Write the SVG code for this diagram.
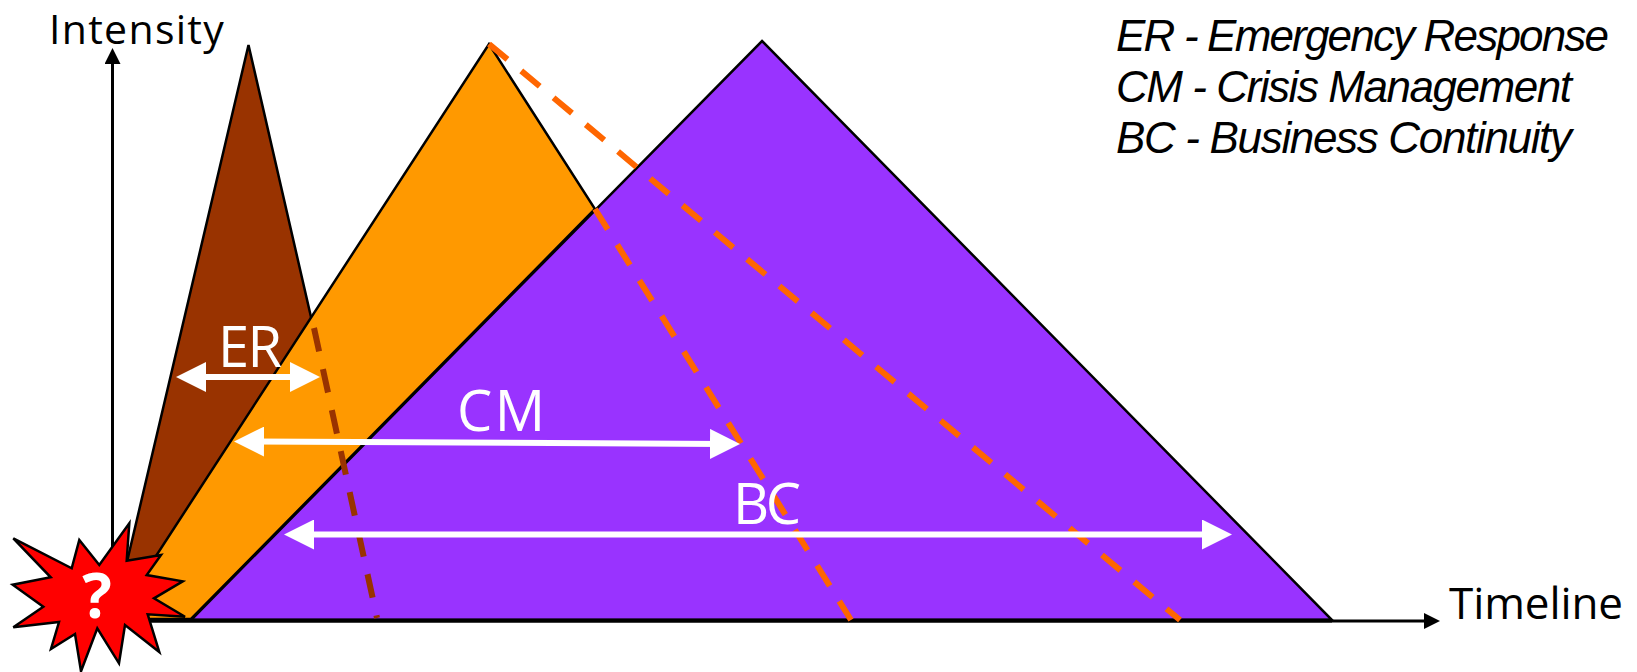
<svg xmlns="http://www.w3.org/2000/svg" width="1637" height="672" viewBox="0 0 1637 672">
<style>
.t{font-family:"Open Sans","Noto Sans","DejaVu Sans",sans-serif}
.tl{font-size:44px;fill:#000}
.leg{font-family:"Liberation Sans",Arial,sans-serif;font-size:44px;font-style:italic;fill:#000}
.lab{font-size:56px;fill:#fff}
.sh{stroke:#000;stroke-width:2.500;stroke-linejoin:miter}
.wa{stroke:#fff;stroke-width:6;fill:none;marker-start:url(#wh);marker-end:url(#wh)}
.ax{stroke:#000;stroke-width:3;fill:none;marker-end:url(#bh)}
.do{stroke:#FF6600;stroke-width:6;stroke-dasharray:24 18;fill:none}
.db{stroke:#993300;stroke-width:6;stroke-dasharray:24 18;fill:none}
</style>
<defs>
<marker id="wh" markerUnits="userSpaceOnUse" markerWidth="30" markerHeight="30" refX="15" refY="15" orient="auto-start-reverse"><path d="M0 0L30 15L0 30Z" fill="#fff"/></marker>
<marker id="bh" markerUnits="userSpaceOnUse" markerWidth="16" markerHeight="16" refX="2" refY="8" orient="auto"><path d="M0 0L16 8L0 16Z" fill="#000"/></marker>
</defs>
<g id="axes">
<path class="ax" d="M112.500 620V62"/>
<path class="ax" d="M150 621H1426"/>
</g>
<g id="er-triangle"><polygon class="sh" fill="#993300" points="248.500,45 376,600 118,600"/></g>
<g id="cm-triangle"><polygon class="sh" fill="#FF9900" points="489,44 595,209 191,619 115,619"/></g>
<g id="bc-triangle"><polygon class="sh" fill="#9933FF" points="762,41 1332,620 191,620"/></g>
<path d="M150 620.500H1332" stroke="#000" stroke-width="4" fill="none"/>
<g id="connectors">
<path class="db" d="M314 328L377 618"/>
<path class="do" d="M595 209L851 620"/>
<path class="do" d="M489 44L1180 620"/>
<path class="wa" d="M191 377H305"/>
<path class="wa" d="M249 441.500L725 444"/>
<path class="wa" d="M299 534.500H1217"/>
</g>
<g id="event">
<polygon class="sh" fill="#FF0000" points="129.300,523.300 126.700,560.700 161,555 146.700,575 182.700,581.300 154,598.300 185,616.700 147.700,614.300 159.300,652 125,625 119,663.300 97.300,628.300 81,671.300 75,634 51,649 59,622 13.300,627.300 43.300,606.700 12.700,584.700 50.700,577.300 13.300,538.300 71.700,568.300 79.300,540 99.300,565"/>
<text class="t" x="97" y="618" text-anchor="middle" font-size="62" font-weight="700" fill="#fff">?</text>
</g>
<g id="labels">
<text class="t" x="49" y="44" font-size="41" letter-spacing="1.300" fill="#000">Intensity</text>
<text class="t tl" x="1449" y="619" textLength="174">Timeline</text>
<text class="t lab" x="218" y="367" textLength="64">ER</text>
<text class="t lab" x="457" y="431" textLength="88">CM</text>
<text class="t lab" x="733" y="524" textLength="68">BC</text>
</g>
<g id="legend">
<text class="leg" x="1116" y="51" textLength="493">ER - Emergency Response</text>
<text class="leg" x="1116" y="102" textLength="456">CM - Crisis Management</text>
<text class="leg" x="1116" y="153" textLength="456">BC - Business Continuity</text>
</g>
</svg>
